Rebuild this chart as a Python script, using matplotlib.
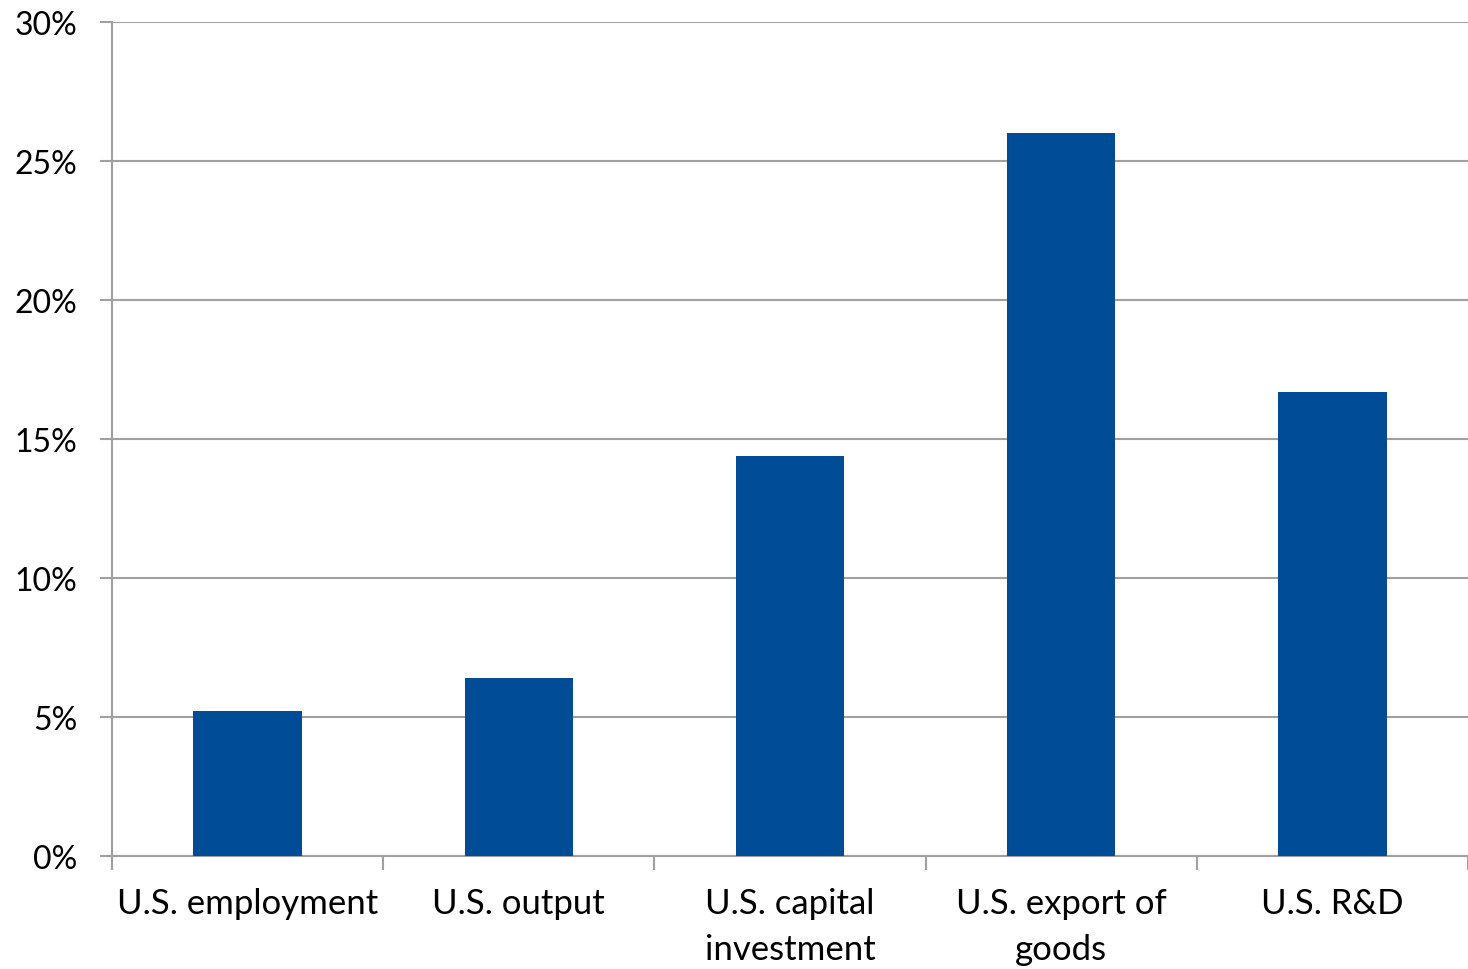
import matplotlib.pyplot as plt
from matplotlib.ticker import FuncFormatter, FixedLocator

# Data
#---------------------------
categories = ["U.S. employment", "U.S. output", "U.S. capital\ninvestment",
              "U.S. export of\ngoods", "U.S. R&D"]
shares = [5.2, 6.4, 14.4, 26.0, 16.7]   # percent
y_ticks = [0, 5, 10, 15, 20, 25, 30]

bar_color = "#004C97"
axis_gray = "#A0A0A0"

plt.rcParams['font.family'] = ['Lato', 'DejaVu Sans']

fig = plt.figure(figsize=(14.68, 9.70), dpi=100)
ax = fig.add_axes([112 / 1468, 113 / 970, 1 - 112 / 1468, (857 - 23) / 970])

x = list(range(len(categories)))
ax.bar(x, shares, width=0.4, color=bar_color, zorder=3)

ax.set_xlim(-0.5, len(categories) - 0.5)
ax.set_ylim(0, 30)
ax.set_yticks(y_ticks)
ax.yaxis.set_major_formatter(FuncFormatter(lambda v, _: "{:.0f}%".format(v)))
ax.grid(axis="y", color=axis_gray, linewidth=1.5, zorder=0)

ax.set_xticks(x)
ax.set_xticklabels(categories, linespacing=1.55)
ax.xaxis.set_minor_locator(FixedLocator([i - 0.5 for i in range(len(categories) + 1)]))
ax.tick_params(axis="x", which="major", length=0, pad=22, labelsize=25)
ax.tick_params(axis="x", which="minor", length=10, width=1.5, color=axis_gray)
ax.tick_params(axis="y", length=9, width=1.5, color=axis_gray, pad=16, labelsize=23)

for side in ["top", "right"]:
    ax.spines[side].set_visible(False)
for side in ["left", "bottom"]:
    ax.spines[side].set_color(axis_gray)
    ax.spines[side].set_linewidth(1.5)

fig.savefig("out.png", dpi=100)
